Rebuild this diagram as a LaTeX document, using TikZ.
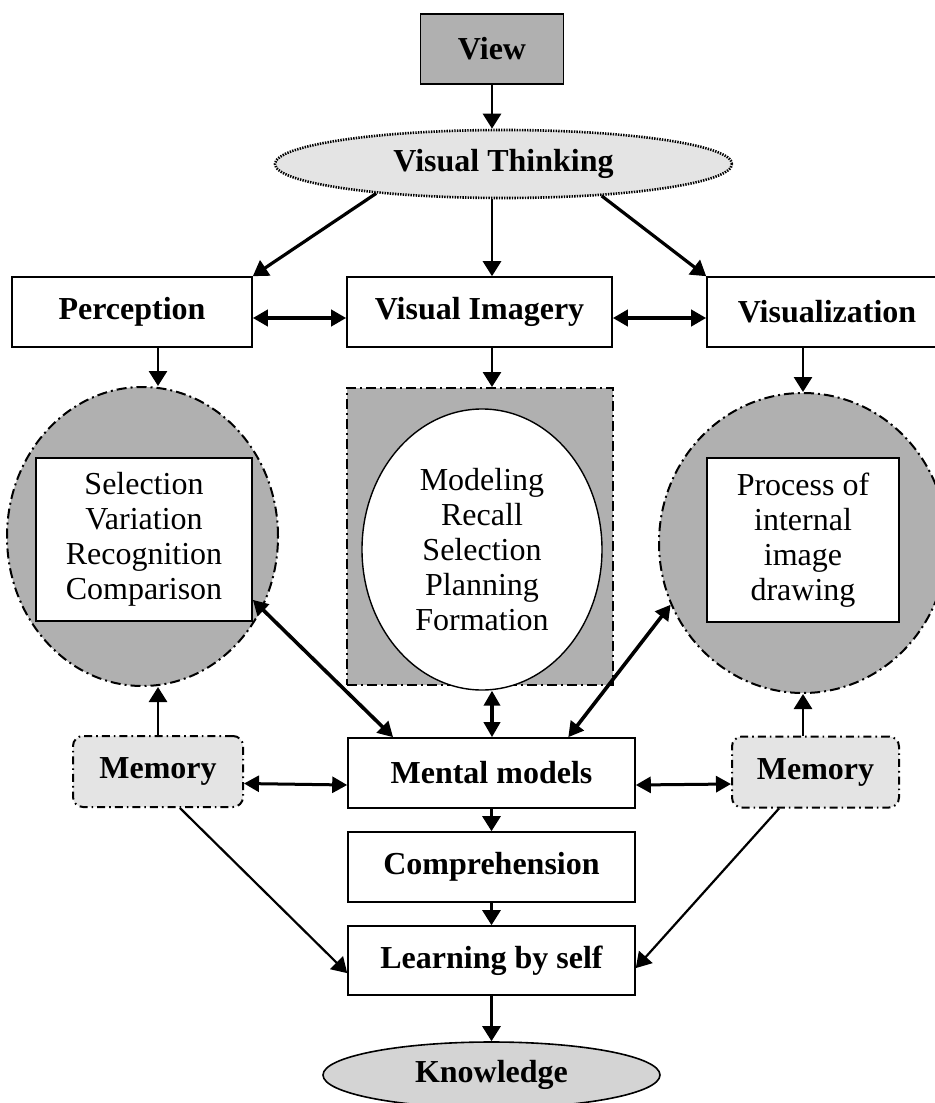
\documentclass[tikz,border=0pt]{standalone}
\usepackage{fontspec}
\setmainfont{Liberation Serif}
\usetikzlibrary{arrows.meta,shapes.geometric}
\definecolor{darkfill}{HTML}{B0B0B0}
\definecolor{palefill}{HTML}{E4E4E4}
\definecolor{knowfill}{HTML}{D4D4D4}

\begin{document}
\begin{tikzpicture}[x=0.5pt,y=-0.5pt,
  txt/.style={font=\fontsize{16}{17.5}\selectfont,align=center,inner sep=0pt},
  bold/.style={font=\fontsize{16}{17.5}\selectfont\bfseries},
  box/.style={txt,bold,draw,line width=0.8pt,fill=white,minimum height=35pt},
  dashdotline/.style={dash pattern=on 5pt off 2pt on 1pt off 2pt},
  blob/.style={ellipse,draw,line width=1pt,dashdotline,fill=darkfill,inner sep=0pt},
  mem/.style={txt,bold,draw,line width=1pt,rounded corners=5pt,dash pattern=on 4pt off 2pt on 0.8pt off 2pt,fill=palefill,minimum height=35.5pt},
  arr/.style={-{Triangle[length=7.5pt,width=9pt]},line width=1.4pt},
  dbl/.style={{Triangle[length=7.5pt,width=8pt]}-{Triangle[length=7.5pt,width=8pt]},line width=#1},
  dbl/.default=2pt]
\useasboundingbox (0,0) rectangle (935,1103);

\node[box,fill=darkfill,minimum width=71.5pt] (view) at (492,49) {View};
\node[ellipse,draw,txt,bold,fill=palefill,line width=1.3pt,dash pattern=on 0.7pt off 0.6pt,minimum width=228.5pt,minimum height=34pt] (vt) at (503.5,164) {Visual Thinking};

\node[box,minimum width=120pt] (perc) at (132,312) {Perception};
\node[box,minimum width=132.5pt] (vimg) at (479.5,312) {Visual Imagery};
\node[box,minimum width=120pt] (vis) at (827,312) {Visualization};

\node[blob,minimum width=135.5pt,minimum height=149.5pt] (lell) at (142.5,536.5) {};
\node[box,txt,minimum width=108pt,minimum height=81.5pt] (lbox) at (144,539.5) {Selection\\Variation\\Recognition\\Comparison};
\node[draw,line width=1pt,dashdotline,fill=darkfill,inner sep=0pt,minimum width=133pt,minimum height=148.5pt] (mrect) at (480,536.5) {};
\node[ellipse,draw,txt,line width=0.7pt,fill=white,minimum width=120pt,minimum height=140.5pt] (mell) at (482,549.5) {Modeling\\Recall\\Selection\\Planning\\Formation};
\node[blob,minimum width=144pt,minimum height=150pt] (rell) at (803,543) {};
\node[box,txt,minimum width=96pt,minimum height=82pt] (rbox) at (803,540) {Process of\\internal\\image\\drawing};

\node[mem,minimum width=85pt] (lmem) at (158,771.5) {Memory};
\node[box,minimum width=143.5pt] (mm) at (491.5,773) {Mental models};
\node[mem,minimum width=83.5pt] (rmem) at (815.5,772) {Memory};
\node[box,minimum width=143.5pt] (comp) at (491.5,867) {Comprehension};
\node[box,minimum width=143.5pt,minimum height=34.5pt] (learn) at (491.5,960.5) {Learning by self};
\node[ellipse,draw,txt,bold,line width=0.8pt,fill=knowfill,minimum width=168.5pt,minimum height=33pt] (know) at (491.5,1075) {Knowledge};

% top part
\draw[arr] (view.south) -- (view.south |- vt.north);
\draw[arr,line width=1.6pt] (vt.193) -- (perc.north east);
\draw[arr] (vt.south -| view.south) -- (vimg.north -| view.south);
\draw[arr,line width=1.6pt] (vt.-18) -- (vis.north west);
\draw[dbl] ([yshift=-3pt]perc.east) -- ([yshift=-3pt]vimg.west);
\draw[dbl] ([yshift=-3pt]vimg.east) -- ([yshift=-3pt]vis.west);

% into the three groups
\draw[arr] (perc.south -| lmem.north) -- (lell.north -| lmem.north);
\draw[arr] (vimg.south -| view.south) -- (mrect.north -| view.south);
\draw[arr] (rell.north |- vis.south) -- (rell.north);

% back to the mental models
\draw[dbl=1.8pt] (lbox.-29) -- (mm.160);
\draw[dbl=1.8pt] (mell.south -| view.south) -- (mm.north -| view.south);
\draw[dbl=1.8pt] (rell.205) -- (mm.25);
\draw[arr] (lmem.north) -- (lell.south -| lmem.north);
\draw[arr] (rell.south |- rmem.north) -- (rell.south);
\draw[dbl=1.5pt] ([yshift=-6pt]lmem.east) -- ([yshift=-6pt]mm.west);
\draw[dbl=1.5pt] ([yshift=-6pt]mm.east) -- ([yshift=-6pt]rmem.west);

% bottom chain
\draw[arr] (mm.south) -- (comp.north);
\draw[arr] (comp.south) -- (learn.north);
\draw[arr,line width=1.1pt] (lmem.-59) -- (learn.185);
\draw[arr,line width=1.1pt] (rmem.-135) -- (learn.-3);
\draw[arr] (learn.south) -- (know.north);
\end{tikzpicture}
\end{document}
